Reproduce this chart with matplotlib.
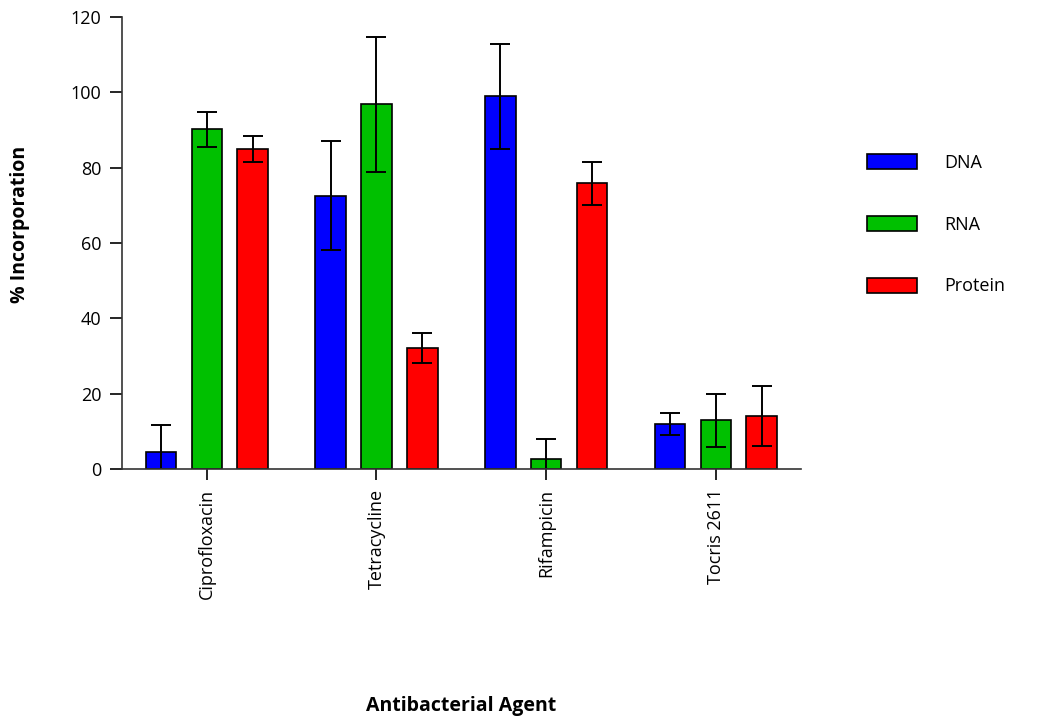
import matplotlib
matplotlib.use("Agg")
import matplotlib.pyplot as plt
import numpy as np

plt.rcParams['font.family'] = ['Open Sans', 'DejaVu Sans']

agents = ['Ciprofloxacin', 'Tetracycline', 'Rifampicin', 'Tocris 2611']
series = ['DNA', 'RNA', 'Protein']
dna = [4.6, 72.6, 98.9, 11.9]
rna = [90.2, 96.8, 2.7, 12.9]
protein = [85.0, 32.2, 75.8, 14.0]
dna_err = [7.1, 14.5, 14.0, 3.0]
rna_err = [4.7, 18.0, 5.3, 7.0]
protein_err = [3.5, 4.0, 5.8, 8.0]
colors = ['#0000ff', '#00c000', '#ff0000']

fig = plt.figure(figsize=(10.39, 7.2), dpi=100)
ax = fig.add_axes([0.1174, 0.3486, 0.6532, 0.6278])

x = np.arange(len(agents))
step = 0.27
width = 0.18
vals = [dna, rna, protein]
errs = [dna_err, rna_err, protein_err]
for i in range(3):
    ax.bar(x + (i - 1) * step, vals[i], width, yerr=errs[i], color=colors[i],
           edgecolor='black', linewidth=1.2, label=series[i],
           error_kw=dict(ecolor='black', elinewidth=1.4, capsize=7, capthick=1.4))

ax.set_xlim(-0.5, 3.5)
ax.set_ylim(0, 120)
ax.set_yticks(np.arange(0, 121, 20))
ax.set_xticks(x)
ax.set_xticklabels(agents, rotation=90, fontsize=13)
ax.tick_params(axis='y', labelsize=13, length=9, width=1.2, pad=6)
ax.tick_params(axis='x', length=8, width=1.2, pad=6)
for s in ['top', 'right']:
    ax.spines[s].set_visible(False)
for s in ['left', 'bottom']:
    ax.spines[s].set_linewidth(1.2)
    ax.spines[s].set_color('#333333')

ax.set_ylabel('% Incorporation', fontsize=14, fontweight='bold')
ax.yaxis.set_label_coords(-0.135, 0.54)
ax.set_xlabel('Antibacterial Agent', fontsize=14, fontweight='bold')
ax.xaxis.set_label_coords(0.5, -0.503)

ax.legend(loc='upper left', bbox_to_anchor=(0.834, 0.786), bbox_transform=fig.transFigure,
          frameon=False, fontsize=13, handlelength=2.8, handleheight=0.9,
          labelspacing=2.42, handletextpad=1.5, borderpad=0, borderaxespad=0)

fig.savefig('out.png', dpi=100)
